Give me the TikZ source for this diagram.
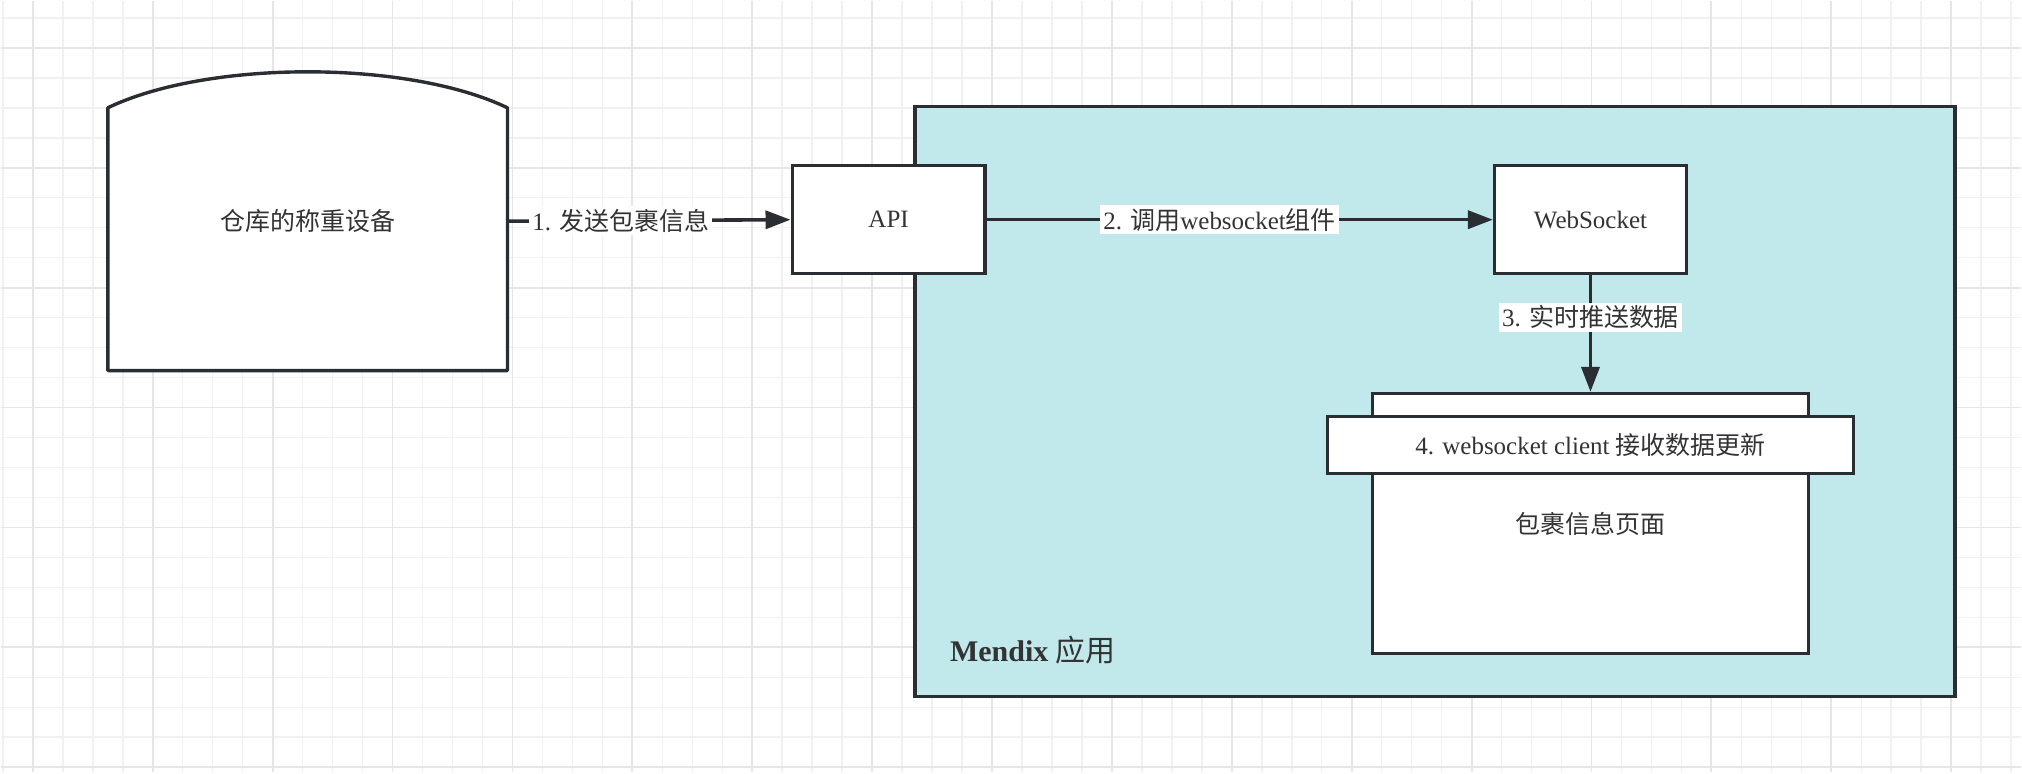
\documentclass[tikz,border=0pt]{standalone}
\usepackage{fontspec}
\setmainfont{Liberation Serif}
\newfontfamily\cjk{Noto Sans CJK SC}
\usetikzlibrary{arrows.meta,positioning}
\definecolor{inkline}{HTML}{2A2E33}
\definecolor{inktext}{HTML}{333333}
\definecolor{appteal}{HTML}{C1E8EA}
\definecolor{gridminor}{HTML}{F1F1F1}
\definecolor{gridmajor}{HTML}{E6E6E6}
\newcommand{\zh}[1]{{\cjk #1}}

\begin{document}
\begin{tikzpicture}[x=0.5pt,y=-0.5pt,font=\fontsize{12.5}{15}\selectfont,text=inktext,
    box/.style={draw=inkline,fill=white,line width=1.7pt},
    flow/.style={draw=inkline,line width=1.8pt,-{Triangle[length=12.5pt,width=9pt]}},
    tag/.style={fill=white,inner sep=1.5pt}]
  % background grid
  \fill[white] (0,0) rectangle (2022,772);
  \foreach \gx in {2,32,...,2012} \draw[gridminor,line width=0.75pt] (\gx,0) -- (\gx,772);
  \foreach \gy in {17,47,...,767} \draw[gridminor,line width=0.75pt] (0,\gy) -- (2022,\gy);
  \foreach \gx in {32,152,...,2012} \draw[gridmajor,line width=0.9pt] (\gx,0) -- (\gx,772);
  \foreach \gy in {47,167,...,767} \draw[gridmajor,line width=0.9pt] (0,\gy) -- (2022,\gy);

  % Mendix app container
  \node[box,fill=appteal,minimum width=520.5pt,minimum height=295pt] (mendix) at (1435.5,401) {};
  \node[anchor=west,font=\fontsize{15}{18}\selectfont] (mendixlbl) at (943,650) {{\bfseries Mendix} \zh{应用}};

  % weighing device
  \draw[box,line join=round] (107,370) -- (107,107) .. controls (207,59) and (407,59) .. (507,107) -- (507,370) -- cycle;
  \node[minimum width=200pt,minimum height=149.5pt] (weigher) at (307,220.5) {\zh{仓库的称重设备}};

  \node[box,minimum width=96.5pt,minimum height=54pt] (api) at (888.5,219) {API};
  \node[box,minimum width=96pt,minimum height=54pt] (ws) at (1591,219) {WebSocket};
  \node[box,minimum width=218pt,minimum height=130pt] (page) at (1591,523) {\zh{包裹信息页面}};
  \node[box,minimum width=263pt,minimum height=28.5pt] (banner) at (1591,444.5) {4. websocket client \zh{接收数据更新}};

  \draw[flow] (weigher.east) -- node[tag,pos=0.4] {1. \zh{发送包裹信息}} (api.west);
  \draw[flow] (api) -- node[tag,pos=0.46] {2. \zh{调用}websocket\zh{组件}} (ws);
  \draw[flow] (ws) -- node[tag,pos=0.36] {3. \zh{实时推送数据}} (page);
\end{tikzpicture}
\end{document}
